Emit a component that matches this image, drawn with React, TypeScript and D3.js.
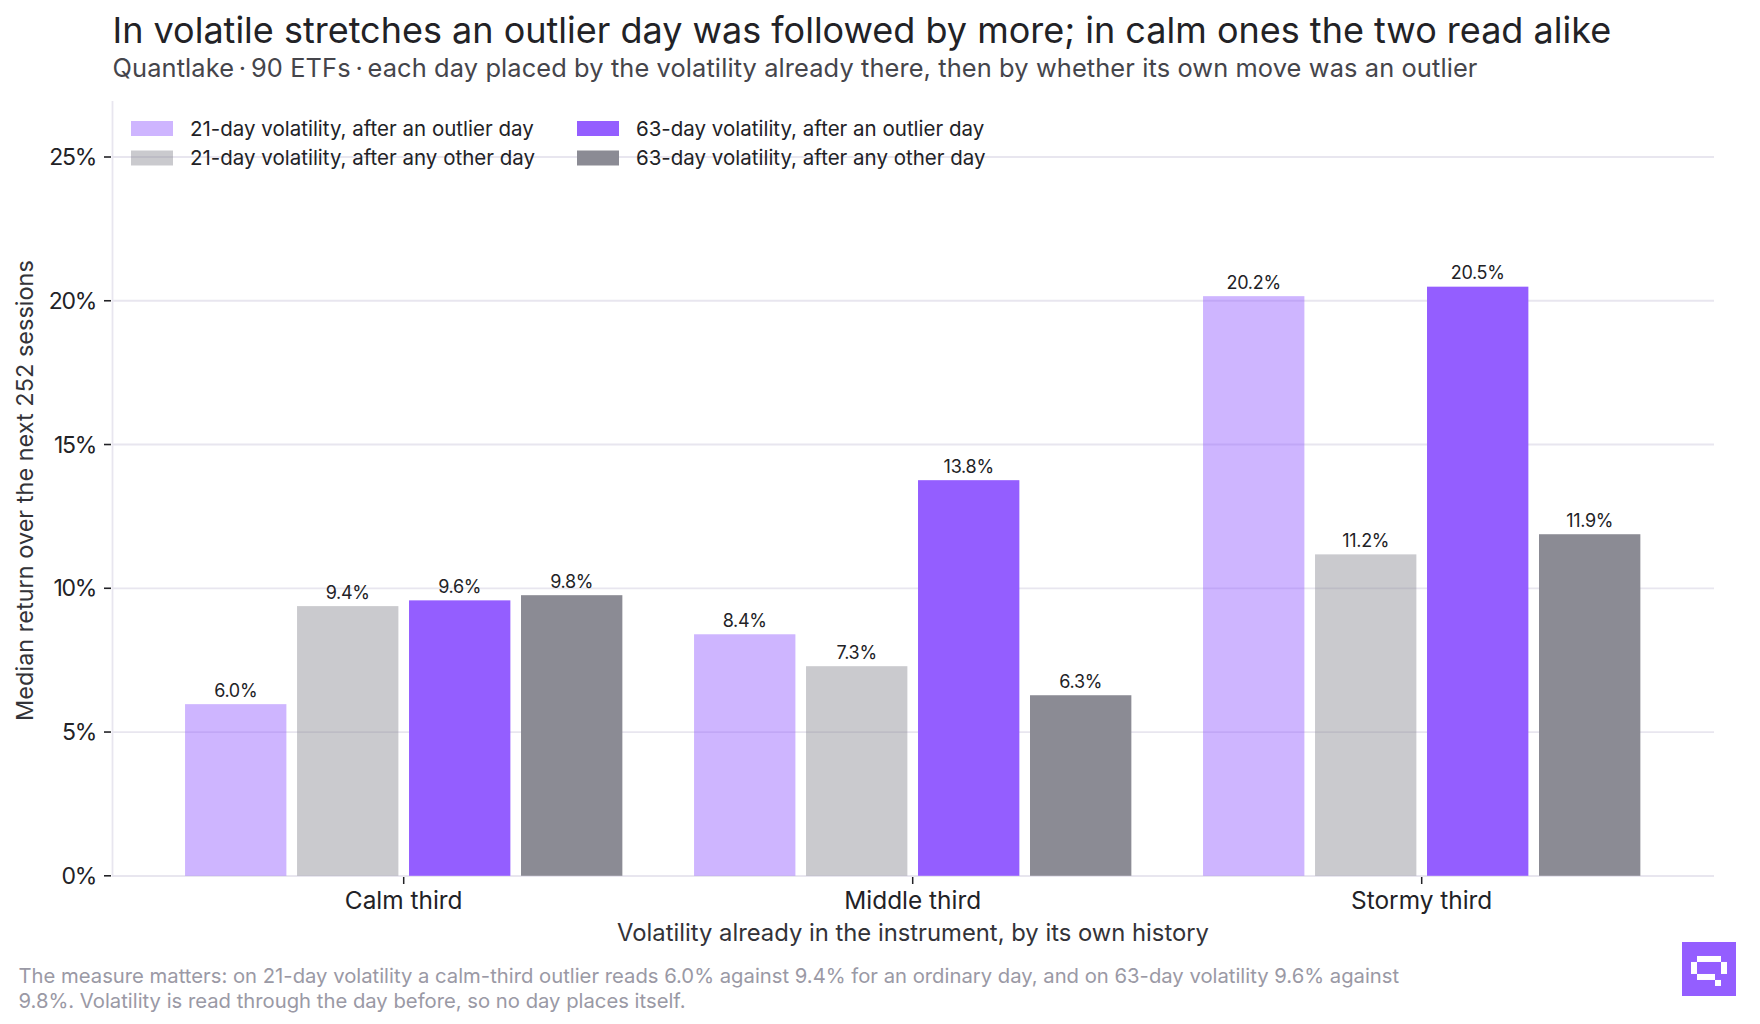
import React from 'react';
import * as d3 from 'd3';

const categories = ['Calm third', 'Middle third', 'Stormy third'];
const seriesNames = [
  '21-day volatility, after an outlier day',
  '21-day volatility, after any other day',
  '63-day volatility, after an outlier day',
  '63-day volatility, after any other day',
];
const seriesColors = ['#945eff', '#8b8b94', '#945eff', '#8b8b94'];
const seriesOpacity = [0.46, 0.46, 1, 1];
const calmValues = [5.97, 9.38, 9.58, 9.76];
const middleValues = [8.4, 7.29, 13.76, 6.28];
const stormyValues = [20.16, 11.18, 20.49, 11.88];
const yTicks = [0, 5, 10, 15, 20, 25];
const footnoteLines = [
  'The measure matters: on 21-day volatility a calm-third outlier reads 6.0% against 9.4% for an ordinary day, and on 63-day volatility 9.6% against',
  '9.8%. Volatility is read through the day before, so no day places itself.',
];
const logoCells = [
  [2.5, 2.33, 4, 1],
  [1.5, 3.33, 1, 2],
  [6.5, 3.33, 1, 2],
  [2.5, 5.33, 3, 1],
  [5.5, 6.33, 1, 1],
];

const FONT = 'Inter, sans-serif';
const INK = '#222226';
const GRID = '#e8e6ef';

const values = [calmValues, middleValues, stormyValues];

export default function App() {
  const x = d3
    .scaleBand<string>()
    .domain(categories)
    .range([112.2, 1713.2])
    .paddingInner(0)
    .paddingOuter(0.0727);
  const x1 = d3
    .scaleBand<number>()
    .domain([0, 1, 2, 3])
    .range([0, x.bandwidth()])
    .paddingInner(0.095)
    .paddingOuter(0.32);
  const y = d3.scaleLinear().domain([0, 27]).range([875.8, 99.5]);

  return (
    <svg
      width={1760}
      height={1024}
      viewBox="0 0 1760 1024"
      style={{ position: 'absolute', left: 0, top: 0, background: '#fff' }}
      fontFamily={FONT}
    >
      <text x={112.5} y={43} fontSize={36} fill={INK}>
        In volatile stretches an outlier day was followed by more; in calm ones the two read alike
      </text>
      <text x={112.5} y={77} fontSize={25.4} letterSpacing={0.11} fill="#45454b">
        Quantlake{'\u2009'}·{'\u2009'}90 ETFs{'\u2009'}·{'\u2009'}each day placed by the volatility already there, then by whether its own move was an outlier
      </text>

      {yTicks.map(t => (
        <g key={t}>
          {t > 0 && <line x1={112} x2={1714} y1={y(t)} y2={y(t)} stroke={GRID} strokeWidth={1.8} />}
          <line x1={104} x2={111} y1={y(t)} y2={y(t)} stroke={INK} strokeWidth={1.6} />
          <text x={96} y={y(t) + 8.2} fontSize={23} letterSpacing={-1.3} textAnchor="end" fill={INK}>
            {t}%
          </text>
        </g>
      ))}
      <line x1={112.5} x2={112.5} y1={101} y2={877} stroke={GRID} strokeWidth={1.8} />
      <line x1={112} x2={1714} y1={876} y2={876} stroke={GRID} strokeWidth={2} />

      {categories.map((c, i) => (
        <g key={c} transform={`translate(${x(c)},0)`}>
          {values[i].map((v, s) => (
            <g key={s}>
              <rect
                x={x1(s)}
                y={y(v)}
                width={x1.bandwidth()}
                height={y(0) - y(v)}
                fill={seriesColors[s]}
                fillOpacity={seriesOpacity[s]}
              />
              <text
                x={(x1(s) as number) + x1.bandwidth() / 2}
                y={y(v) - 7.3}
                fontSize={18}
                letterSpacing={-0.3}
                textAnchor="middle"
                fill={INK}
              >
                {v.toFixed(1)}%
              </text>
            </g>
          ))}
          <line
            x1={x.bandwidth() / 2}
            x2={x.bandwidth() / 2}
            y1={877}
            y2={884}
            stroke={INK}
            strokeWidth={1.5}
          />
          <text x={x.bandwidth() / 2} y={908.5} fontSize={24.4} textAnchor="middle" fill={INK}>
            {c}
          </text>
        </g>
      ))}

      <text x={913} y={941} fontSize={23.8} textAnchor="middle" fill="#333338">
        Volatility already in the instrument, by its own history
      </text>
      <text
        transform="translate(33,490.5) rotate(-90)"
        fontSize={23.5}
        textAnchor="middle"
        fill="#333338"
      >
        Median return over the next 252 sessions
      </text>

      {seriesNames.map((name, s) => {
        const lx = s < 2 ? 131 : 577;
        const ly = s % 2 === 0 ? 121 : 150.5;
        return (
          <g key={name}>
            <rect
              x={lx}
              y={ly}
              width={42}
              height={15}
              fill={seriesColors[s]}
              fillOpacity={seriesOpacity[s]}
            />
            <text x={lx + 59} y={ly + 14.5} fontSize={20.5} fill={INK}>
              {name}
            </text>
          </g>
        );
      })}

      {footnoteLines.map((line, i) => (
        <text key={i} x={18.5} y={983 + i * 25.4} fontSize={20.25} fill="#9a99a5">
          {line}
        </text>
      ))}

      <g transform="translate(1682,942)">
        <rect width={54} height={54} fill="#945eff" />
        {logoCells.map((c, i) => (
          <rect key={i} x={c[0] * 6} y={c[1] * 6} width={c[2] * 6} height={c[3] * 6} fill="#fff" />
        ))}
      </g>
    </svg>
  );
}
